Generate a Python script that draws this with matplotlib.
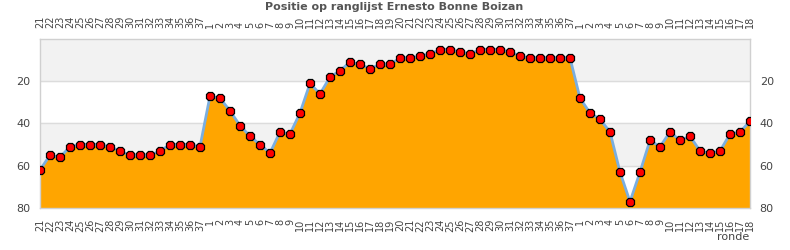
import matplotlib
matplotlib.use("Agg")
import matplotlib.pyplot as plt

# rondes (labels) per seizoensdeel
ronde_a = [str(r) for r in range(21, 38)]
ronde_b = [str(r) for r in range(1, 38)]
ronde_c = [str(r) for r in range(1, 19)]
rondes = ronde_a + ronde_b + ronde_c

# positie op de ranglijst
positie_a = [62, 55, 56, 51, 50, 50, 50, 51, 53, 55, 55, 55, 53, 50, 50, 50, 51]
positie_b = [27, 28, 34, 41, 46, 50, 54, 44, 45, 35, 21, 26, 18, 15, 11, 12, 14, 12, 12,
             9, 9, 8, 7, 5, 5, 6, 7, 5, 5, 5, 6, 8, 9, 9, 9, 9, 9]
positie_c = [28, 35, 38, 44, 63, 77, 63, 48, 51, 44, 48, 46, 53, 54, 53, 45, 44, 39]
positie = positie_a + positie_b + positie_c

x = list(range(len(positie)))

fig = plt.figure(figsize=(7.9, 2.5), dpi=100)
ax = fig.add_axes([40 / 790, 42 / 250, 710 / 790, 169 / 250])

# achtergrond banden
ax.axhspan(0, 20, color="#f2f2f2", zorder=0)
ax.axhspan(40, 60, color="#f2f2f2", zorder=0)
for g in [20, 40, 60]:
    ax.axhline(g, color="#dcdcdc", linewidth=1, zorder=1)

ax.fill_between(x, positie, 80, color="#ffa500", linewidth=0, zorder=2)
ax.plot(x, positie, color="#7aaee0", linewidth=2, zorder=3)
ax.plot(x, positie, linestyle="none", marker="8", markersize=7,
        markerfacecolor="#ff0000", markeredgecolor="black", markeredgewidth=0.9, zorder=4)

ax.set_xlim(0, len(positie) - 1)
ax.set_ylim(80, 0)

ax.set_xticks(x)
ax.set_xticklabels(rondes, rotation=90, fontsize=7, color="#444444")
ax.tick_params(axis="x", length=0, pad=8, bottom=False)

# zelfde labels bovenaan
top = ax.secondary_xaxis("top")
top.set_xticks(x)
top.set_xticklabels(rondes, rotation=90, fontsize=7, color="#444444")
top.tick_params(axis="x", length=0, pad=8)
top.spines["top"].set_visible(False)

ax.set_yticks([20, 40, 60, 80])
ax.tick_params(axis="y", length=0, labelsize=8, labelcolor="#444444",
               labelleft=True, labelright=True, left=False, right=False, pad=7)

for s in ax.spines.values():
    s.set_color("#d0d0d0")
    s.set_linewidth(1)

fig.text(394 / 790, 1 - 7 / 250, "Positie op ranglijst Ernesto Bonne Boizan",
         ha="center", va="center", fontsize=8, fontweight="bold", color="#555555")
fig.text(749 / 790, 8 / 250, "ronde", ha="right", va="bottom", fontsize=8, color="#444444")

fig.savefig("out.png", dpi=100)
